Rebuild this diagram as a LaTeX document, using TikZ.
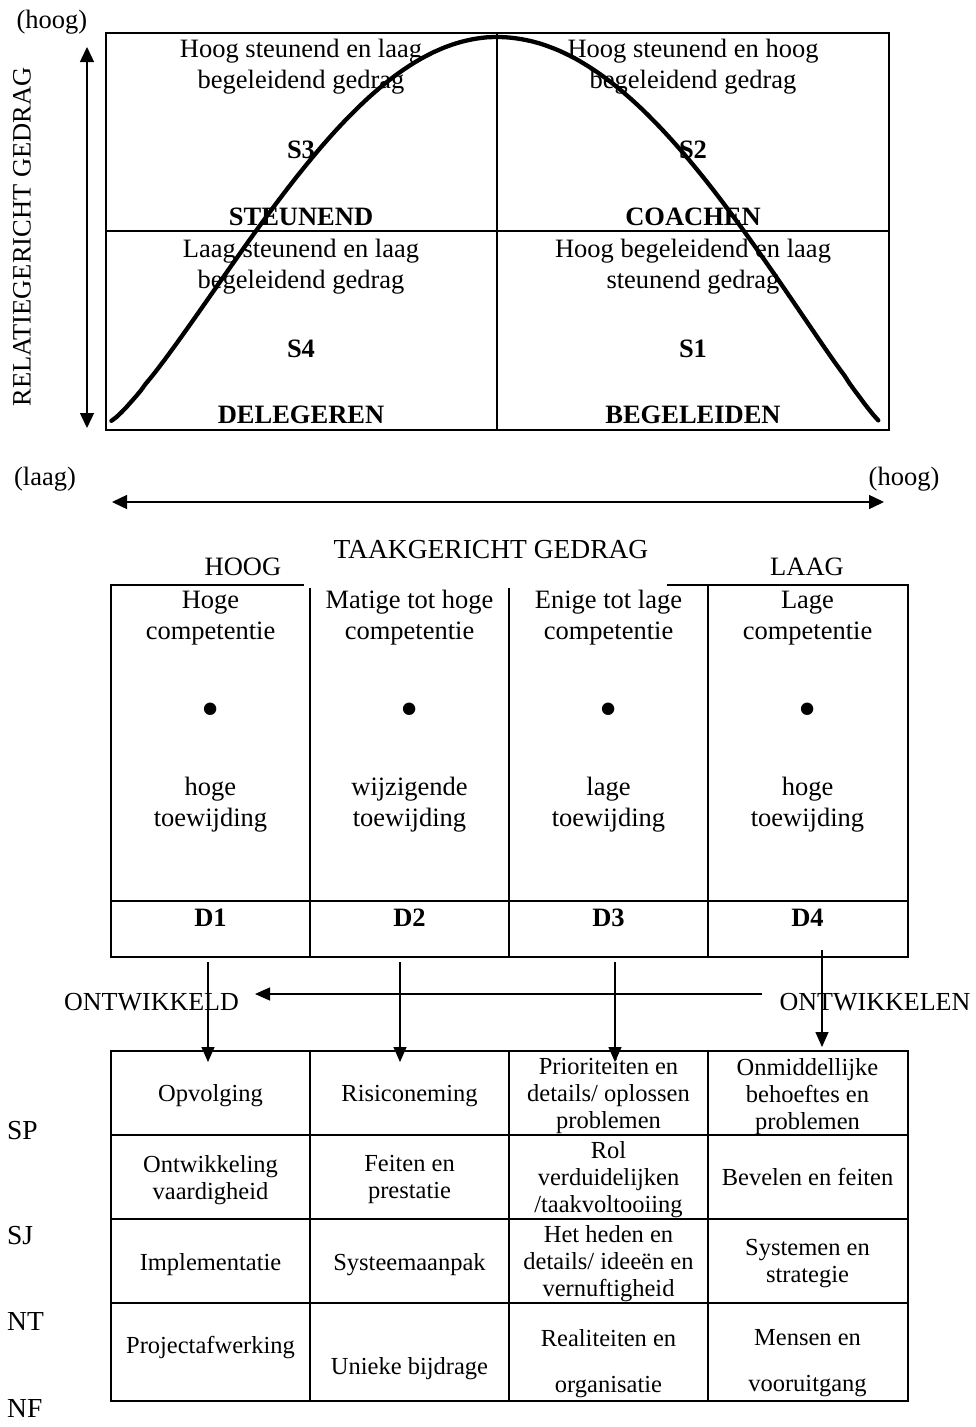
\documentclass[tikz,border=0pt]{standalone}
\usepackage{fontspec}
\setmainfont{Liberation Serif}
\usetikzlibrary{arrows.meta}
\begin{document}
\begin{tikzpicture}[x=1pt,y=-1pt,
  frame/.style={line width=2.3pt},
  axis/.style={line width=1.4pt,{Triangle[length=15pt,width=14pt]}-{Triangle[length=15pt,width=14pt]}},
  arr/.style={line width=1.3pt,-{Triangle[length=15pt,width=13pt]}},
  big/.style={font=\fontsize{26.5}{31}\selectfont,inner sep=0pt,align=center},
  bigb/.style={font=\fontsize{26.5}{31}\selectfont\bfseries,inner sep=0pt,align=center},
  cell/.style={font=\fontsize{24.5}{27}\selectfont,inner sep=0pt,align=center},
  lab/.style={font=\fontsize{27.5}{31}\selectfont,inner sep=0pt},
  dot/.style={font=\fontsize{52}{52}\selectfont,inner sep=0pt}
]
\useasboundingbox[fill=white] (0,0) rectangle (975,1427);

% ---------- top quadrant ----------
\draw[frame] (106,33) rectangle (889,430);
\draw[frame] (497,33) -- (497,430);
\draw[frame] (106,231) -- (889,231);

\node[big,anchor=north] (tlt) at (301,39) {Hoog steunend en laag\\begeleidend gedrag};
\node[big,anchor=north] (trt) at (693,39) {Hoog steunend en hoog\\begeleidend gedrag};
\node[big,anchor=north] (blt) at (301,239) {Laag steunend en laag\\begeleidend gedrag};
\node[big,anchor=north] (brt) at (693,239) {Hoog begeleidend en laag\\steunend gedrag};
\node[bigb,anchor=base] (s3) at (301,158) {S3};
\node[bigb,anchor=base] (s2) at (693,158) {S2};
\node[bigb,anchor=base] (s4) at (301,357) {S4};
\node[bigb,anchor=base] (s1) at (693,357) {S1};
\node[bigb,anchor=base] (st) at (301,225) {STEUNEND};
\node[bigb,anchor=base] (co) at (693,225) {COACHEN};
\node[bigb,anchor=base] (de) at (301,423) {DELEGEREN};
\node[bigb,anchor=base] (be) at (693,423) {BEGELEIDEN};

% bell curve
\draw[line width=4.3pt,line cap=round]
  plot[domain=0.001:1,samples=80,variable=\t] ({111+386*\t},{421-384*(sin(90*\t))^1.2})
  -- plot[domain=0:0.999,samples=80,variable=\t] ({497+382*\t},{421-384*(cos(90*\t))^1.1});

% vertical axis
\node[big] (hoog1) at (52,22) {(hoog)};
\node[big,rotate=90] (rel) at (22,237) {RELATIEGERICHT GEDRAG};
\coordinate (vtop) at (87,47);
\coordinate (vbot) at (87,428);
\draw[axis] (vtop) -- (vbot);

% horizontal axis
\node[big] (laag1) at (45,479) {(laag)};
\node[big] (hoog2) at (904,479) {(hoog)};
\coordinate (hl) at (112,502);
\coordinate (hr) at (884,502);
\draw[axis] (hl) -- (hr);
\node[big,anchor=base,font=\fontsize{27.5}{31}\selectfont] (taak) at (491,558) {TAAKGERICHT GEDRAG};
\node[big,anchor=base] (hoogl) at (243,575) {HOOG};
\node[big,anchor=base] (laagl) at (807,575) {LAAG};

% ---------- middle table ----------
\draw[frame] (304,585) -- (111,585) -- (111,957) -- (908,957) -- (908,585) -- (667,585);
\draw[frame] (310,588) -- (310,957);
\draw[frame] (509,588) -- (509,957);
\draw[frame] (708,585) -- (708,957);
\draw[frame] (111,901) -- (908,901);

\node[big,anchor=north] (c1a) at (210.5,591) {Hoge\\competentie};
\node[big,anchor=north] (c2a) at (409.5,590) {Matige tot hoge\\competentie};
\node[big,anchor=north] (c3a) at (608.5,590) {Enige tot lage\\competentie};
\node[big,anchor=north] (c4a) at (807.5,591) {Lage\\competentie};
\node[dot] (b1) at (210.5,714.5) {\textbullet};
\node[dot] (b2) at (409.5,714.5) {\textbullet};
\node[dot] (b3) at (608.5,714.5) {\textbullet};
\node[dot] (b4) at (807.5,714.5) {\textbullet};
\node[big,anchor=north] (c1b) at (210.5,777) {hoge\\toewijding};
\node[big,anchor=north] (c2b) at (409.5,777) {wijzigende\\toewijding};
\node[big,anchor=north] (c3b) at (608.5,777) {lage\\toewijding};
\node[big,anchor=north] (c4b) at (807.5,777) {hoge\\toewijding};
\node[bigb,anchor=base] (d1) at (210.5,926) {D1};
\node[bigb,anchor=base] (d2) at (409.5,926) {D2};
\node[bigb,anchor=base] (d3) at (608.5,926) {D3};
\node[bigb,anchor=base] (d4) at (807.5,926) {D4};

% ---------- arrows ----------
\coordinate (a1s) at (208,962);  \coordinate (a1e) at (208,1062);
\coordinate (a2s) at (400,962);  \coordinate (a2e) at (400,1062);
\coordinate (a3s) at (615,962);  \coordinate (a3e) at (615,1062);
\coordinate (a4s) at (822,950);  \coordinate (a4e) at (822,1047);
\draw[arr] (a1s) -- (a1e);
\draw[arr] (a2s) -- (a2e);
\draw[arr] (a3s) -- (a3e);
\draw[arr] (a4s) -- (a4e);
\coordinate (os) at (762,994); \coordinate (oe) at (255,994);
\draw[arr] (os) -- (oe);
\node[big,font=\fontsize{26}{31}\selectfont] (ontd) at (151.5,1002.5) {ONTWIKKELD};
\node[big,font=\fontsize{26}{31}\selectfont] (ontn) at (875,1002.5) {ONTWIKKELEN};

% ---------- bottom table ----------
\draw[frame] (111,1051) rectangle (908,1401);
\foreach \x in {310,509,708} \draw[frame] (\x,1051) -- (\x,1401);
\foreach \y in {1135,1219,1303} \draw[frame] (111,\y) -- (908,\y);

\node[cell,anchor=base] (r1c1) at (210.5,1101.5) {Opvolging};
\node[cell,anchor=base] (r1c2) at (409.5,1101.5) {Risiconeming};
\node[cell,anchor=north] (r1c3) at (608.5,1058.5) {Prioriteiten en\\details/ oplossen\\problemen};
\node[cell,anchor=north] (r1c4) at (807.5,1058.5) {Onmiddellijke\\behoeftes en\\problemen};

\node[cell,anchor=north] (r2c1) at (210.5,1155) {Ontwikkeling\\vaardigheid};
\node[cell,anchor=north] (r2c2) at (409.5,1155) {Feiten en\\prestatie};
\node[cell,anchor=north] (r2c3) at (608.5,1141.5) {Rol\\verduidelijken\\/taakvoltooiing};
\node[cell,anchor=base] (r2c4) at (807.5,1185) {Bevelen en feiten};

\node[cell,anchor=base] (r3c1) at (210.5,1270) {Implementatie};
\node[cell,anchor=base] (r3c2) at (409.5,1270) {Systeemaanpak};
\node[cell,anchor=north] (r3c3) at (608.5,1225.5) {Het heden en\\details/ ideeën en\\vernuftigheid};
\node[cell,anchor=north] (r3c4) at (807.5,1239.5) {Systemen en\\strategie};

\node[cell,anchor=base] (r4c1) at (210.5,1353) {Projectafwerking};
\node[cell,anchor=base] (r4c2) at (409.5,1374) {Unieke bijdrage};
\node[cell,anchor=north] (r4c3) at (608.5,1329.5) {Realiteiten en\\[19pt]organisatie};
\node[cell,anchor=north] (r4c4) at (807.5,1329.5) {Mensen en\\[19pt]vooruitgang};

% side labels
\node[lab,anchor=west] (sp) at (7,1131) {SP};
\node[lab,anchor=west] (sj) at (7,1236) {SJ};
\node[lab,anchor=west] (nt) at (7,1321) {NT};
\node[lab,anchor=west] (nf) at (7,1408) {NF};
\end{tikzpicture}
\end{document}
